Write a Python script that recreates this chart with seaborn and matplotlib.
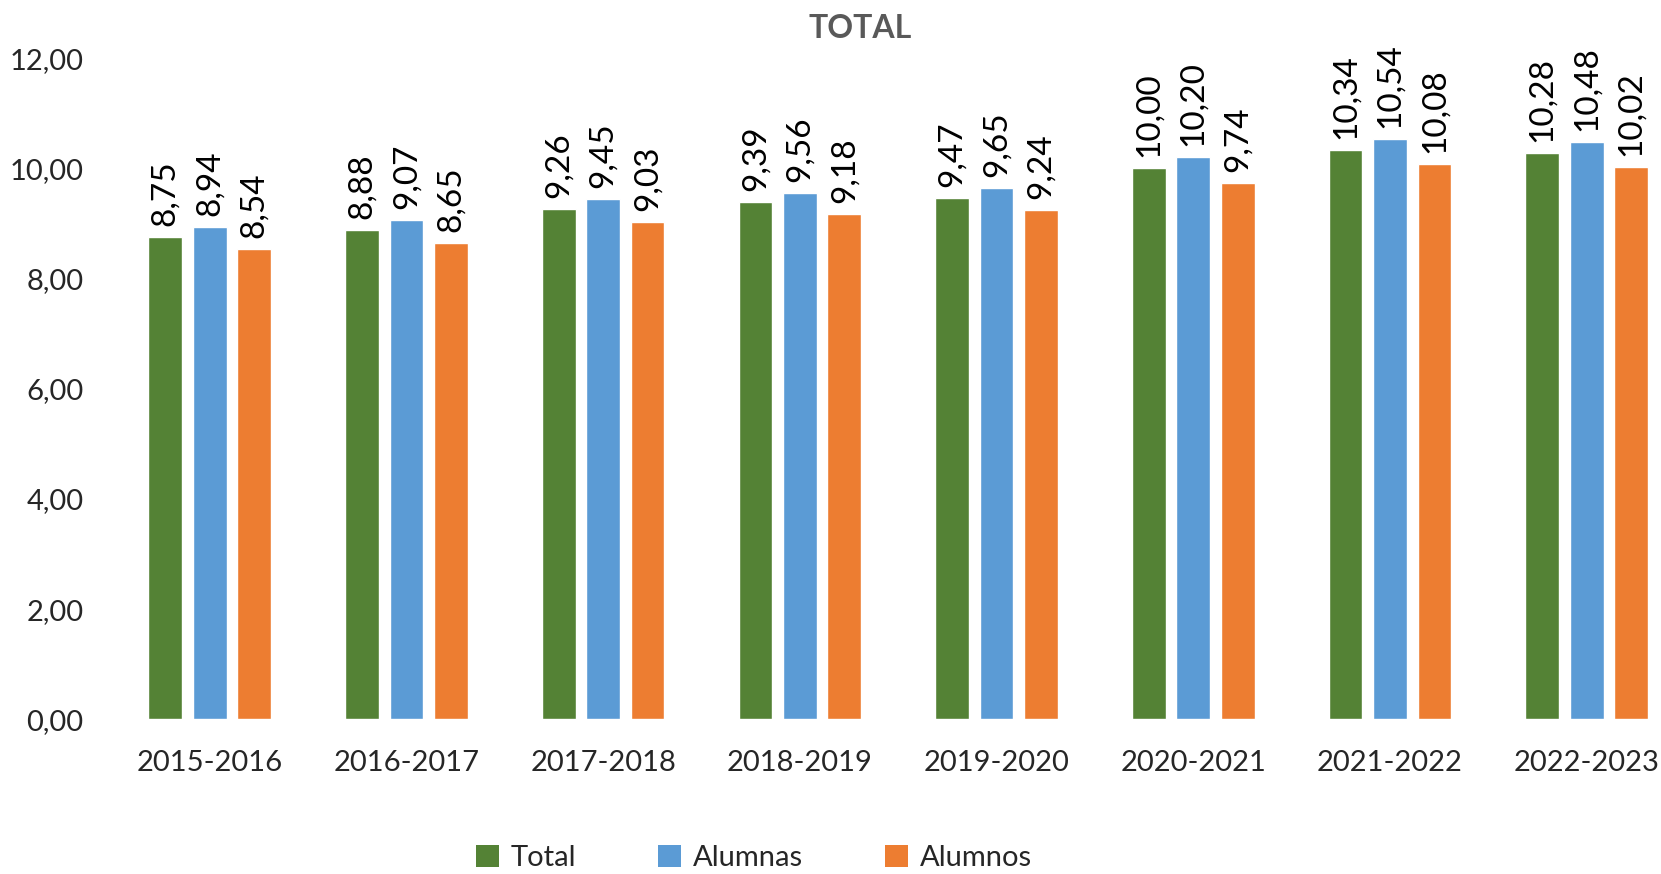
import matplotlib
matplotlib.use("Agg")
import matplotlib.pyplot as plt
import seaborn as sns
import pandas as pd
from matplotlib.patches import Patch

categories = ["2015-2016", "2016-2017", "2017-2018", "2018-2019",
              "2019-2020", "2020-2021", "2021-2022", "2022-2023"]
series_names = ["Total", "Alumnas", "Alumnos"]
total = [8.75, 8.88, 9.26, 9.39, 9.47, 10.00, 10.34, 10.28]
alumnas = [8.94, 9.07, 9.45, 9.56, 9.65, 10.20, 10.54, 10.48]
alumnos = [8.54, 8.65, 9.03, 9.18, 9.24, 9.74, 10.08, 10.02]
yticks = [0, 2, 4, 6, 8, 10, 12]
colors = ["#548235", "#5B9BD5", "#ED7D31"]

rows = []
for name, vals in zip(series_names, [total, alumnas, alumnos]):
    for c, v in zip(categories, vals):
        rows.append({"cat": c, "serie": name, "val": v})
df = pd.DataFrame(rows)

sns.set_theme(style="white")
plt.rcParams['font.family'] = ['Lato', 'DejaVu Sans']

W, H = 1661, 874
fig = plt.figure(figsize=(W / 100, H / 100), dpi=100)
left, right = 111.4, 1685.0
top, bottom = 58.3, 719.3
ax = fig.add_axes([left / W, 1 - bottom / H, (right - left) / W, (bottom - top) / H])

sns.barplot(data=df, x="cat", y="val", hue="serie", palette=colors,
            order=categories, hue_order=series_names,
            width=0.678, gap=0.24, ax=ax, legend=False, saturation=1,
            errorbar=None)

for cont in ax.containers:
    labels = [f"{v:.2f}".replace(".", ",") for v in cont.datavalues]
    ax.bar_label(cont, labels=labels, rotation=90, padding=8, fontsize=24,
                 color="black")

ax.set_ylim(0, 12)
ax.set_xlim(-0.5, len(categories) - 0.5)
ax.set_yticks(yticks)
ax.set_yticklabels([f"{t:.2f}".replace(".", ",") for t in yticks], fontsize=21)
ax.tick_params(axis="y", pad=20, length=0)
ax.tick_params(axis="x", pad=22, length=0, labelsize=21)
ax.set_xlabel("")
ax.set_ylabel("")
for s in ax.spines.values():
    s.set_visible(False)

fig.text(860 / W, 1 - 29 / H, "TOTAL", ha="center", va="center",
         fontsize=23, fontweight="bold", color="#595959")

handles = [Patch(facecolor=c, edgecolor="none") for c in colors]
fig.legend(handles, series_names, loc="center", bbox_to_anchor=(754 / W, 1 - 858 / H),
           ncol=3, frameon=False, fontsize=21, handlelength=0.8, handleheight=0.8,
           handletextpad=0.4, columnspacing=2.8)

fig.savefig("out.png", dpi=100)
